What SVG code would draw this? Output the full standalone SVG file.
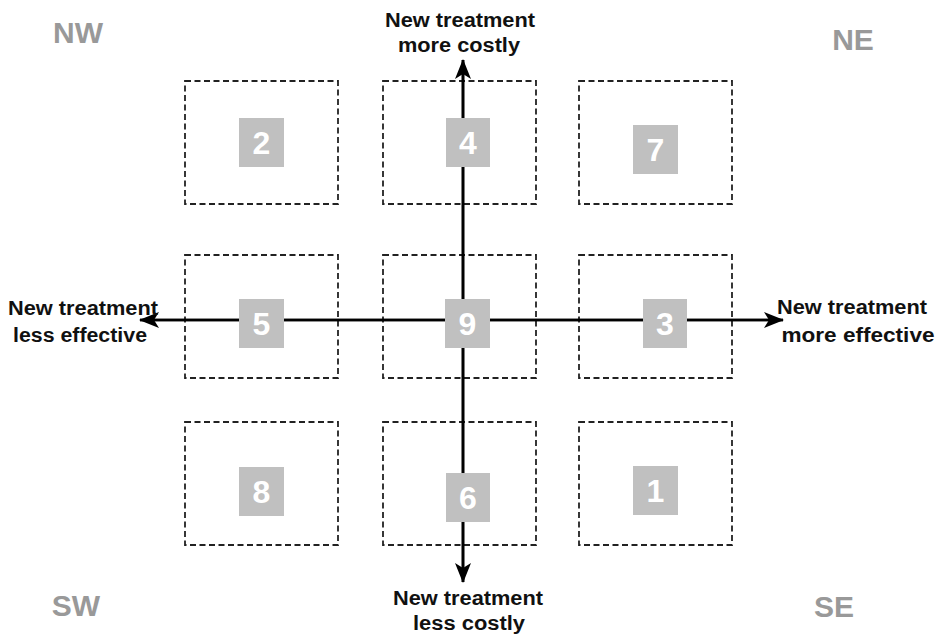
<svg xmlns="http://www.w3.org/2000/svg" width="940" height="635" viewBox="0 0 940 635">
<style>
.box{fill:none;stroke:#222;stroke-width:1.8;stroke-dasharray:6,3.5}
.sq{fill:#c0c0c0}
.num{font-family:"Liberation Sans",Arial,sans-serif;font-weight:bold;font-size:32px;fill:#fff;text-anchor:middle}
.lbl{font-family:"Liberation Sans",Arial,sans-serif;font-weight:bold;font-size:20px;fill:#111;text-anchor:middle}
.cor{font-family:"Liberation Sans",Arial,sans-serif;font-weight:bold;font-size:30px;fill:#999;text-anchor:middle}
.ax{stroke:#000;stroke-width:2.6;fill:none}
</style>
<defs>
<marker id="ah" viewBox="0 0 20 16" refX="19" refY="8" markerWidth="21" markerHeight="16" markerUnits="userSpaceOnUse" orient="auto">
<path d="M20,8 L0,0 L5,8 L0,16 Z" fill="#000"/>
</marker>
</defs>
<rect width="940" height="635" fill="#fff"/>
<g id="boxes">
<rect class="box" x="185" y="81" width="153" height="123"/>
<rect class="box" x="383" y="81" width="153" height="123"/>
<rect class="box" x="579" y="81" width="153" height="123"/>
<rect class="box" x="185" y="255" width="153" height="123"/>
<rect class="box" x="383" y="255" width="153" height="123"/>
<rect class="box" x="579" y="255" width="153" height="123"/>
<rect class="box" x="185" y="422" width="153" height="123"/>
<rect class="box" x="383" y="422" width="153" height="123"/>
<rect class="box" x="579" y="422" width="153" height="123"/>
</g>
<g id="connectors">
<line class="ax" x1="140" y1="320" x2="783" y2="320" marker-end="url(#ah)"/>
<line class="ax" x1="783" y1="320" x2="140" y2="320" marker-end="url(#ah)"/>
<line class="ax" x1="463" y1="60" x2="463" y2="582" marker-end="url(#ah)"/>
<line class="ax" x1="463" y1="582" x2="463" y2="60" marker-end="url(#ah)"/>
</g>
<g id="n2"><rect class="sq" x="239" y="118" width="45" height="49"/><text class="num" x="261.5" y="154">2</text></g>
<g id="n4"><rect class="sq" x="446" y="118" width="44" height="49"/><text class="num" x="468" y="154">4</text></g>
<g id="n7"><rect class="sq" x="633" y="125" width="45" height="49"/><text class="num" x="655.5" y="161">7</text></g>
<g id="n5"><rect class="sq" x="239" y="299" width="45" height="49"/><text class="num" x="261.5" y="335">5</text></g>
<g id="n9"><rect class="sq" x="445" y="299" width="45" height="49"/><text class="num" x="467.5" y="335">9</text></g>
<g id="n3"><rect class="sq" x="643" y="299" width="44" height="49"/><text class="num" x="665" y="335">3</text></g>
<g id="n8"><rect class="sq" x="239" y="467" width="45" height="49"/><text class="num" x="261.5" y="503">8</text></g>
<g id="n6"><rect class="sq" x="446" y="473" width="44" height="49"/><text class="num" x="468" y="509">6</text></g>
<g id="n1"><rect class="sq" x="633" y="466" width="45" height="49"/><text class="num" x="655.5" y="502">1</text></g>
<g id="lbl-top"><text class="lbl" x="460" y="27" textLength="150" lengthAdjust="spacingAndGlyphs">New treatment</text><text class="lbl" x="459" y="52" textLength="122" lengthAdjust="spacingAndGlyphs">more costly</text></g>
<g id="lbl-bottom"><text class="lbl" x="468" y="605" textLength="150" lengthAdjust="spacingAndGlyphs">New treatment</text><text class="lbl" x="469" y="630" textLength="112" lengthAdjust="spacingAndGlyphs">less costly</text></g>
<g id="lbl-left"><text class="lbl" x="83" y="315" textLength="150" lengthAdjust="spacingAndGlyphs">New treatment</text><text class="lbl" x="80" y="342" textLength="134" lengthAdjust="spacingAndGlyphs">less effective</text></g>
<g id="lbl-right"><text class="lbl" x="852" y="314" textLength="150" lengthAdjust="spacingAndGlyphs">New treatment</text><text class="lbl" x="858" y="342" textLength="153" lengthAdjust="spacingAndGlyphs">more effective</text></g>
<g id="corners">
<text class="cor" x="78" y="43">NW</text>
<text class="cor" x="853" y="50">NE</text>
<text class="cor" x="76" y="616">SW</text>
<text class="cor" x="834" y="617">SE</text>
</g>
</svg>
